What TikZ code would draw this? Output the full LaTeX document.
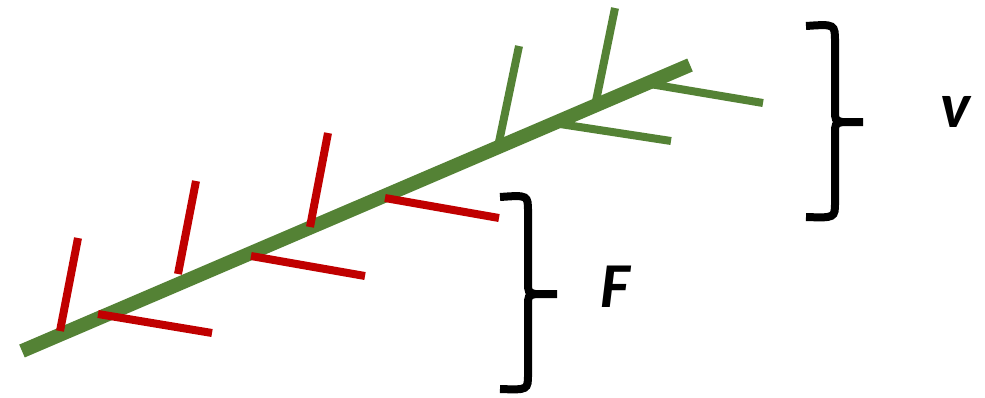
\documentclass[tikz,border=0pt]{standalone}
\usepackage{fontspec}
\newfontfamily\labelfont{Carlito}
\usepackage{tikz}
\usetikzlibrary{positioning}
\definecolor{stemgreen}{HTML}{548235}
\definecolor{tickred}{HTML}{C00000}

\begin{document}
\begin{tikzpicture}[
    x=1pt, y=-1pt,
    stem/.style={line width=14pt, draw=stemgreen},
    redtick/.style={line width=8pt, draw=tickred},
    greentick/.style={line width=8pt, draw=stemgreen},
    brace/.style={line width=8pt, draw=black},
    lbl/.style={font=\labelfont\bfseries\itshape\fontsize{64}{74}\selectfont, inner sep=0pt}
]
\useasboundingbox (0,0) rectangle (985,397);

% main stem
\coordinate (base) at (22,351);
\coordinate (tip) at (690,65);
\draw[stem] (base) -- (tip);

% red side branches
\foreach \a/\b/\c/\d in {60/331/78/238, 178/274/196/181, 310/227/328/133}
    \draw[redtick] (\a,\b) -- (\c,\d);
\foreach \a/\b/\c/\d in {98/314/212/333, 251/256/365/276, 385/198/499/218}
    \draw[redtick] (\a,\b) -- (\c,\d);

% green side branches
\foreach \a/\b/\c/\d in {499/142/519/46, 596/101/615/8}
    \draw[greentick] (\a,\b) -- (\c,\d);
\foreach \a/\b/\c/\d in {560/124/671/141, 650/84/763/103}
    \draw[greentick] (\a,\b) -- (\c,\d);

% brace for F
\coordinate (fmid) at (557,294);
\draw[brace] (500,197) .. controls (528,195) .. (528,212) -- (528,282)
    .. controls (528,292) .. (535,294) -- (fmid);
\draw[brace] (535,294) .. controls (528,296) .. (528,306) -- (528,374)
    .. controls (528,390) .. (500,389);

% brace for v
\coordinate (vmid) at (863,122);
\draw[brace] (806,26) .. controls (835,24) .. (835,42) -- (835,110)
    .. controls (835,120) .. (842,122) -- (vmid);
\draw[brace] (842,122) .. controls (835,124) .. (835,134) -- (835,202)
    .. controls (835,218) .. (806,217);

\node[lbl, right=43pt of fmid, yshift=7pt] (flbl) {F};
\node[lbl, right=77pt of vmid, yshift=10pt] (vlbl) {v};
\end{tikzpicture}
\end{document}
